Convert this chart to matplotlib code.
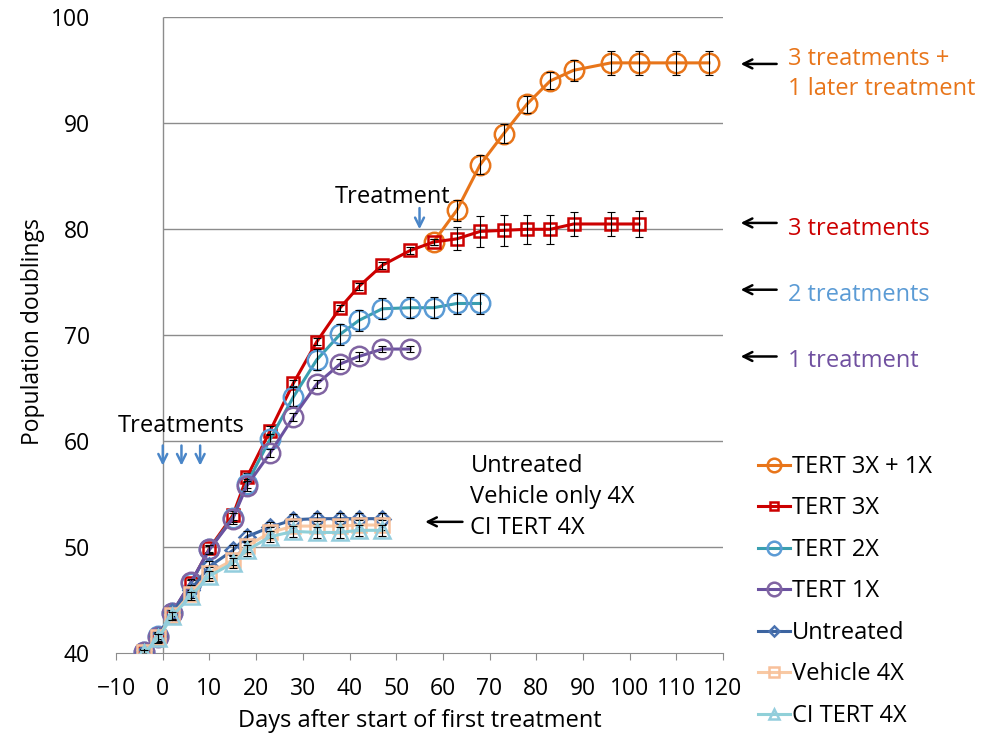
import numpy as np
import matplotlib
matplotlib.use("Agg")
import matplotlib.pyplot as plt

plt.rcParams['font.family'] = ['Open Sans', 'DejaVu Sans']

# days after start of first treatment
days = [-4, -1, 2, 6, 10, 15, 18, 23, 28, 33, 38, 42, 47, 53, 58, 63, 68, 73, 78, 83, 88, 96, 102, 110, 117]

# TERT 3X + 1X (later treatment from day ~55)
d_3x1x = days[14:]
v_3x1x = [78.8, 81.8, 86.1, 89.0, 91.8, 94.0, 95.0, 95.7, 95.7, 95.7, 95.7]
e_3x1x = [0.3, 1.0, 0.9, 0.9, 0.8, 0.8, 1.0, 1.1, 1.1, 1.1, 1.1]

# TERT 3X
d_3x = days[:23]
v_3x = [40.1, 41.6, 43.8, 46.6, 49.9, 53.0, 56.6, 61.0, 65.5, 69.4, 72.6, 74.6, 76.6,
        78.0, 78.8, 79.1, 79.8, 79.9, 80.0, 80.0, 80.5, 80.5, 80.5]
e_3x = [0.2, 0.3, 0.3, 0.3, 0.3, 0.4, 0.4, 0.4, 0.3, 0.3, 0.3, 0.3, 0.3,
        0.3, 0.3, 1.1, 1.45, 1.45, 1.35, 1.35, 1.15, 1.15, 1.2]

# TERT 2X
d_2x = days[:17]
v_2x = [40.1, 41.6, 43.8, 46.6, 49.8, 52.8, 56.0, 60.2, 64.2, 67.7, 70.1, 71.4, 72.5,
        72.6, 72.6, 73.0, 73.0]
e_2x = [0.2, 0.3, 0.3, 0.3, 0.3, 0.4, 0.4, 0.5, 0.9, 1.0, 1.0, 1.0, 1.0,
        1.0, 1.0, 1.0, 1.0]

# TERT 1X
d_1x = days[:14]
v_1x = [40.1, 41.5, 43.8, 46.7, 49.8, 52.7, 55.8, 58.9, 62.3, 65.4, 67.3, 68.0, 68.7, 68.7]
e_1x = [0.2, 0.3, 0.3, 0.3, 0.4, 0.5, 0.5, 0.4, 0.4, 0.4, 0.5, 0.4, 0.3, 0.3]

# controls
d_ctrl = days[:13]
v_untr = [40.1, 41.6, 43.9, 46.0, 48.2, 49.7, 51.0, 51.9, 52.6, 52.7, 52.7, 52.7, 52.7]
e_untr = [0.3, 0.4, 0.4, 0.4, 0.5, 0.5, 0.5, 0.5, 0.5, 0.5, 0.5, 0.5, 0.5]
v_veh = [40.1, 41.5, 43.6, 45.6, 47.6, 48.8, 50.1, 51.4, 52.0, 52.0, 52.0, 52.1, 52.1]
e_veh = [0.3, 0.4, 0.4, 0.4, 0.5, 0.5, 0.5, 0.5, 0.5, 0.5, 0.5, 0.5, 0.5]
v_ci = [40.0, 41.4, 43.5, 45.4, 47.3, 48.5, 49.7, 51.0, 51.5, 51.4, 51.4, 51.6, 51.6]
e_ci = [0.3, 0.4, 0.4, 0.4, 0.5, 0.5, 0.5, 0.5, 0.5, 0.5, 0.5, 0.5, 0.5]

treat_days = [0, 4, 8]
late_treat_day = 55

fs = 17

fig = plt.figure(figsize=(9.84, 7.39), dpi=100)
ax = fig.add_axes([0.118, 0.116, 0.6167, 0.8606])

ax.set_xlim(-10, 120)
ax.set_ylim(40, 100)

grid_c = '#8c8c8c'
ax.hlines(range(50, 101, 10), 0, 120, color=grid_c, lw=1, zorder=0)
ax.vlines(0, 40, 100, color=grid_c, lw=1, zorder=0)
for s in ['left', 'right', 'top']:
    ax.spines[s].set_visible(False)
ax.spines['bottom'].set_color(grid_c)
ax.set_xticks(range(-10, 121, 10))
ax.set_yticks(range(40, 101, 10))
ax.tick_params(axis='x', direction='out', length=5, color=grid_c, pad=12, labelsize=16.5)
ax.tick_params(axis='y', length=0, pad=19, labelsize=16.5)

series = [
    (d_3x1x, v_3x1x, e_3x1x, 'TERT 3X + 1X', '#E8751A', '#E8751A', 'o', 14),
    (d_3x, v_3x, e_3x, 'TERT 3X', '#CC0000', '#CC0000', 's', 9),
    (d_2x, v_2x, e_2x, 'TERT 2X', '#3A9FB0', '#5B9BD5', 'o', 14),
    (d_1x, v_1x, e_1x, 'TERT 1X', '#6B52A0', '#8064A2', 'o', 14),
    (d_ctrl, v_untr, e_untr, 'Untreated', '#3C64A0', '#4A72B0', 'D', 8),
    (d_ctrl, v_veh, e_veh, 'Vehicle 4X', '#F8C9A4', '#F8C09A', 's', 10),
    (d_ctrl, v_ci, e_ci, 'CI TERT 4X', '#90D0D8', '#93CDDD', '^', 11),
]

handles = []
for i, (d, v, e, lab, lc, mc, mk, ms) in enumerate(series):
    z = 3 + i
    ax.errorbar(d, v, yerr=e, fmt='none', ecolor='black', elinewidth=0.8,
                capsize=3, capthick=0.8, zorder=z + 0.5)
    h, = ax.plot(d, v, color=lc, lw=2.2, marker=mk, ms=ms, mfc='none', mec=mc,
                 mew=1.8, label=lab, zorder=z)
    handles.append(h)

blue_arrow = dict(arrowstyle='->', color='#4A86C8', lw=1.8, mutation_scale=16,
                  shrinkA=0, shrinkB=0)
black_arrow = dict(arrowstyle='->', color='black', lw=1.8, mutation_scale=16,
                   shrinkA=0, shrinkB=0)

# treatment arrows
ax.text(-9.7, 61.4, 'Treatments', fontsize=fs, ha='left', va='center')
for td in treat_days:
    ax.annotate('', xy=(td, 57.7), xytext=(td, 59.6), arrowprops=blue_arrow)
ax.text(36.9, 83.05, 'Treatment', fontsize=fs, ha='left', va='center')
ax.annotate('', xy=(late_treat_day, 80.0), xytext=(late_treat_day, 82.0),
            arrowprops=blue_arrow)

# right side labels
right_labels = [
    ('3 treatments +\n1 later treatment', 94.65, 95.6, '#E8751A'),
    ('3 treatments', 80.0, 80.6, '#CC0000'),
    ('2 treatments', 73.8, 74.3, '#5B9BD5'),
    ('1 treatment', 67.6, 68.0, '#7050A0'),
]
for txt, ty, ay, c in right_labels:
    ax.text(134, ty, txt, fontsize=fs, color=c, ha='left', va='center', linespacing=1.3)
    ax.annotate('', xy=(123.8, ay), xytext=(131.5, ay), annotation_clip=False,
                arrowprops=black_arrow)

ax.text(65.9, 54.75, 'Untreated\nVehicle only 4X\nCI TERT 4X', fontsize=fs,
        ha='left', va='center', linespacing=1.38)
ax.annotate('', xy=(56.2, 52.4), xytext=(64.2, 52.4), arrowprops=black_arrow)

ax.set_xlabel('Days after start of first treatment', fontsize=fs, labelpad=6)
fig.text(33 / 984, 1 - 332 / 739, 'Population doublings', fontsize=16.5,
         rotation=90, ha='center', va='center')

fig.legend(handles=handles, loc='upper left', bbox_to_anchor=(758 / 984, 1 - 455 / 739),
           bbox_transform=fig.transFigure, frameon=False, fontsize=fs,
           labelspacing=0.74, handlelength=1.35, handletextpad=0.1, markerscale=0.7,
           borderpad=0, borderaxespad=0)

fig.savefig('out.png', dpi=100)
